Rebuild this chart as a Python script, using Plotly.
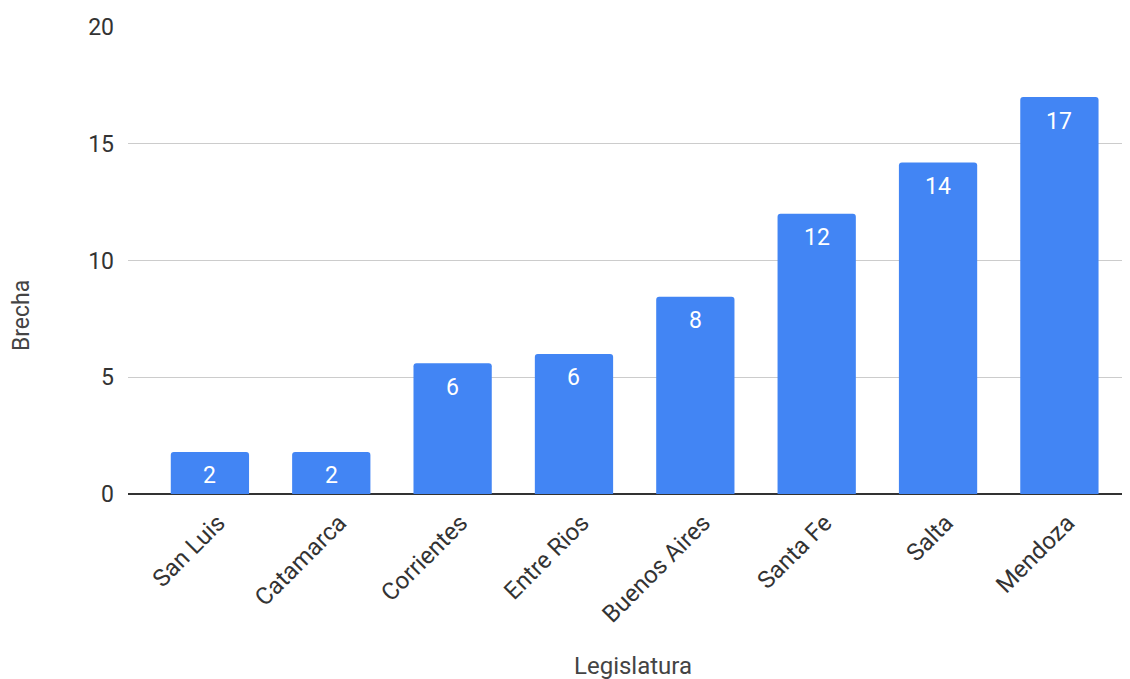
import plotly.graph_objects as go

categories = ["San Luis", "Catamarca", "Corrientes", "Entre Rios", "Buenos Aires", "Santa Fe", "Salta", "Mendoza"]
brecha = [1.8, 1.8, 5.6, 6.0, 8.45, 12.0, 14.2, 17.0]
y_ticks = [0, 5, 10, 15, 20]

fig = go.Figure(go.Bar(
    x=categories, y=brecha,
    marker=dict(color="#4285F4", cornerradius=3, line=dict(width=0)),
    hoverinfo="skip",
))

for c, v in zip(categories, brecha):
    fig.add_annotation(
        x=c, y=v, text=f"{v:.0f}", showarrow=False, yanchor="middle", yshift=-24,
        font=dict(color="white", size=23, family="Roboto"),
    )

# axis titles
fig.add_annotation(text="Brecha", xref="paper", yref="paper", x=-0.1067, y=0.383,
                   showarrow=False, textangle=-90, xanchor="center", yanchor="middle",
                   font=dict(size=23, color="#444444", family="Roboto"))
fig.add_annotation(text="Legislatura", xref="paper", yref="paper", x=0.5035, y=-0.368,
                   showarrow=False, xanchor="center", yanchor="middle",
                   font=dict(size=24, color="#444444", family="Roboto"))

fig.update_layout(
    width=1130, height=679,
    margin=dict(l=120, r=7, t=19, b=193, autoexpand=False),
    plot_bgcolor="white", paper_bgcolor="white",
    font=dict(family="Roboto", color="#333333", size=23),
    bargap=0.355, showlegend=False,
    xaxis=dict(
        range=[-0.675, 7.59], tickangle=-45, showgrid=False, ticks="",
        tickfont=dict(size=24, color="#333333"), ticklabelstandoff=9, ticklabelshift=8,
        automargin=False, showline=False, zeroline=False,
    ),
    yaxis=dict(
        range=[0, 20], tickvals=y_ticks, showgrid=True, gridcolor="#cccccc", gridwidth=1,
        zeroline=True, zerolinecolor="#333333", zerolinewidth=2,
        tickfont=dict(size=23, color="#333333"), ticklabelstandoff=13,
        automargin=False, showline=False,
    ),
)

fig.write_html("out.html")
